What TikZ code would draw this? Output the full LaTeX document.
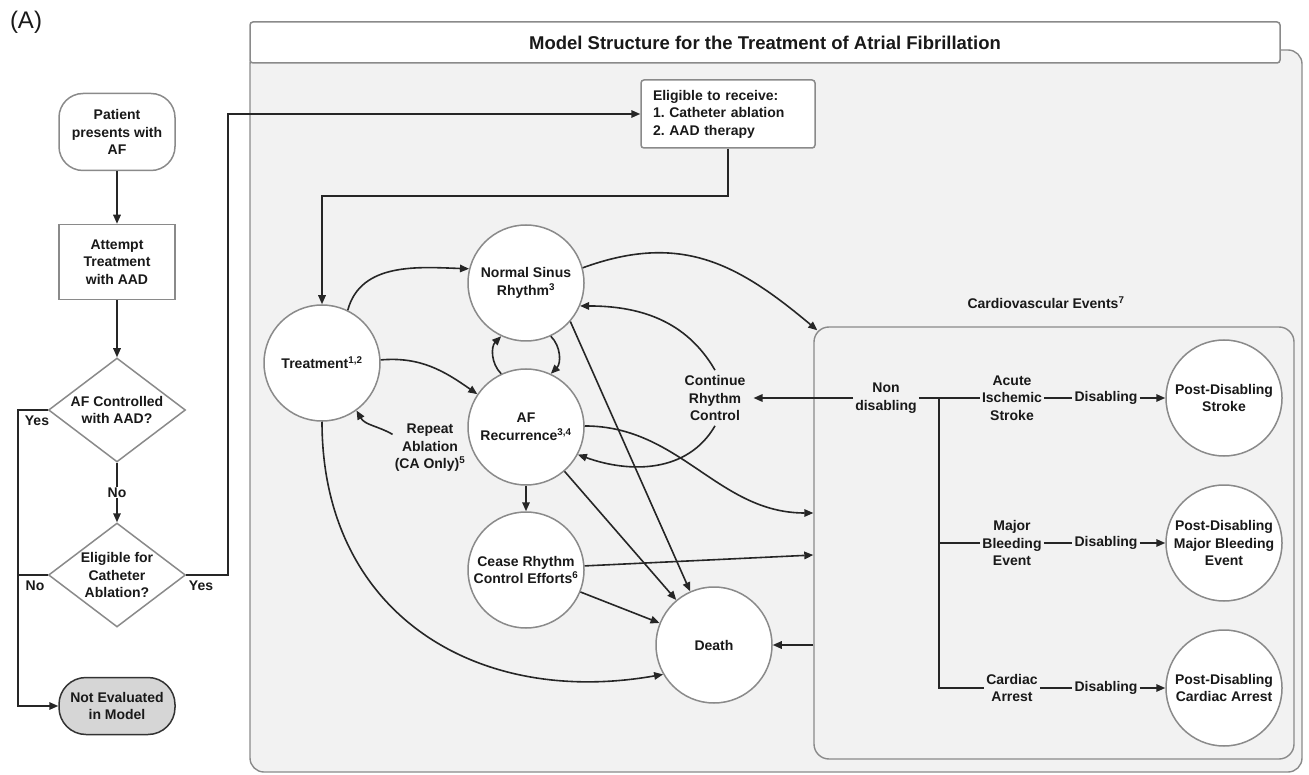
\documentclass[tikz,border=0pt]{standalone}
\usepackage{fontspec}
\setmainfont{Liberation Sans}
\usetikzlibrary{shapes.geometric,arrows.meta}
\definecolor{panelgray}{HTML}{F2F2F2}
\definecolor{edgegray}{HTML}{8A8A8A}
\definecolor{notevalgray}{HTML}{D6D6D6}
\frenchspacing

\begin{document}
\begin{tikzpicture}[x=1pt,y=1pt,
	every node/.style={font=\bfseries\fontsize{14}{17.5}\selectfont, align=center, text=black!90},
	arr/.style={-{Triangle[length=9pt,width=7.5pt]}, line width=1.6pt, black!85},
	conn/.style={line width=1.6pt, black!85},
	state/.style={circle, draw=edgegray, line width=1.5pt, fill=white, minimum size=116pt, inner sep=0pt},
	flowbox/.style={rectangle, draw=edgegray, line width=1.5pt, fill=white, minimum width=116pt, minimum height=75pt, inner sep=2pt},
	decision/.style={diamond, draw=edgegray, line width=1.5pt, fill=white, minimum width=137pt, minimum height=104pt, inner sep=0pt, aspect=1.32},
	lbl/.style={inner sep=2pt}]
	\useasboundingbox (0,0) rectangle (1309,-775);
	\draw[draw=edgegray, fill=panelgray, line width=1.4pt, rounded corners=14pt] (250,-50) rectangle (1302,-772);
	\node[draw=edgegray, fill=white, line width=1.5pt, rounded corners=3pt, minimum width=1030pt, minimum height=41pt, font=\bfseries\fontsize{18.5}{22}\selectfont] (title) at (765,-42.5) {Model Structure for the Treatment of Atrial Fibrillation};

	\node[font=\fontsize{24}{28}\selectfont] (panelA) at (26,-22) {(A)};
	\node[flowbox, rounded corners=24pt, minimum height=77pt] (patient) at (117,-132) {Patient\\presents with\\AF};
	\node[flowbox] (attempt) at (117,-262) {Attempt\\Treatment\\with AAD};
	\node[decision] (ctrl) at (117,-410) {AF Controlled\\with AAD?};
	\node[decision] (eligca) at (117,-575) {Eligible for\\Catheter\\Ablation?};
	\node[flowbox, fill=notevalgray, draw=black!80, rounded corners=27pt, minimum height=57pt] (noteval) at (117,-706) {Not Evaluated\\in Model};
	\coordinate (leftrail) at (18,-410);
	\coordinate (rightrail) at (228,-575);
	\node[lbl] (yesA) at (37,-421) {Yes};
	\node[lbl] (noB) at (35,-586) {No};
	\node[lbl] (yesB) at (201,-586) {Yes};

	\node[rectangle, draw=edgegray, fill=white, line width=1.5pt, rounded corners=3pt, text width=150pt, align=left, inner xsep=12pt, inner ysep=7pt, minimum height=68pt] (receive) at (728,-114) {Eligible to receive:\\1. Catheter ablation\\2. AAD therapy};
	\node[state] (treat) at (322,-363) {Treatment\textsuperscript{1,2}};
	\node[state] (nsr) at (526,-283) {Normal Sinus\\Rhythm\textsuperscript{3}};
	\node[state] (afrec) at (526,-427) {AF\\Recurrence\textsuperscript{3,4}};
	\node[state] (cease) at (526,-570) {Cease Rhythm\\Control Efforts\textsuperscript{6}};
	\node[state] (death) at (714,-645) {Death};
	\node[lbl] (repeat) at (430,-448) {Repeat\\Ablation\\(CA Only)\textsuperscript{5}};
	\node[lbl, inner xsep=8pt, inner ysep=5pt] (crc) at (715,-398) {Continue\\Rhythm\\Control};

	\node[draw=edgegray, line width=1.4pt, rounded corners=15pt, minimum width=480pt, minimum height=432pt] (cv) at (1054,-543) {};
	\node[lbl] (cvtitle) at (1046,-303) {Cardiovascular Events\textsuperscript{7}};
	\node[lbl] (nondis) at (886,-398) {Non\\disabling};
	\coordinate (branch) at (939,-398);
	\node[lbl] (ais) at (1012,-398) {Acute\\Ischemic\\Stroke};
	\node[lbl] (mbe) at (1012,-543) {Major\\Bleeding\\Event};
	\node[lbl] (arrest) at (1012,-688) {Cardiac\\Arrest};
	\node[lbl] (disA) at (1106,-398) {Disabling};
	\node[lbl] (disB) at (1106,-543) {Disabling};
	\node[lbl] (disC) at (1106,-688) {Disabling};
	\node[state] (pstroke) at (1224,-398) {Post-Disabling\\Stroke};
	\node[state] (pbleed) at (1224,-543) {Post-Disabling\\Major Bleeding\\Event};
	\node[state] (parrest) at (1224,-688) {Post-Disabling\\Cardiac Arrest};

	\draw[arr] (patient) -- (attempt);
	\draw[arr] (attempt) -- (ctrl);
	\draw[arr] (ctrl.south) -- node[fill=white, inner sep=1pt] (noA) {No} (eligca.north);
	\draw[arr] (ctrl.west) -- (leftrail) |- (noteval.west);
	\draw[conn] (eligca.west) -- (leftrail |- eligca.west);
	\draw[arr] (eligca.east) -- (rightrail) |- (receive.west);

	\draw[arr] (receive.south) -- ++(0,-47) -| (treat.north);
	\draw[arr] (treat.64) to[out=75,in=178] (nsr.166);
	\draw[arr] (treat.3) to[out=5,in=145] (afrec.146);
	\draw[arr] (afrec.115) to[bend left=45] (nsr.245);
	\draw[arr] (nsr.295) to[bend left=45] (afrec.65);
	\draw[arr] (repeat.160) to[out=150,in=-60] (treat.-54);
	\draw[arr] (crc.north) to[out=120,in=0] (nsr.-23);
	\draw[arr] (crc.south) to[out=-120,in=-20] (afrec.-28);
	\draw[arr] (nondis.west) -- (crc.east);
	\draw[arr] (nsr.15) to[out=20,in=140,looseness=1.1] ([shift={(4,-4)}]cv.north west);
	\draw[arr] (nsr.-41) -- (death.114);
	\draw[arr] (afrec.-49) -- (death.130);
	\draw[arr] (afrec.south) -- (cease.north);
	\draw[arr] (afrec.1) to[out=0,in=180] ([yshift=30pt]cv.west);
	\draw[arr] (cease.4) -- ([yshift=-12pt]cv.west);
	\draw[arr] (cease.-22) -- (death.158);
	\draw[arr] (treat.south) to[out=-90,in=190,looseness=1.15] (death.210);
	\draw[arr] (cv.west |- death.east) -- (death.east);

	\draw[conn] (nondis.east) -- (branch) -- (ais.west);
	\draw[conn] (branch) |- (mbe.west);
	\draw[conn] (branch) |- (arrest.west);
	\draw[conn] (ais.east) -- (disA.west);
	\draw[conn] (mbe.east) -- (disB.west);
	\draw[conn] (arrest.east) -- (disC.west);
	\draw[arr] (disA.east) -- (pstroke.west);
	\draw[arr] (disB.east) -- (pbleed.west);
	\draw[arr] (disC.east) -- (parrest.west);
\end{tikzpicture}
\end{document}
